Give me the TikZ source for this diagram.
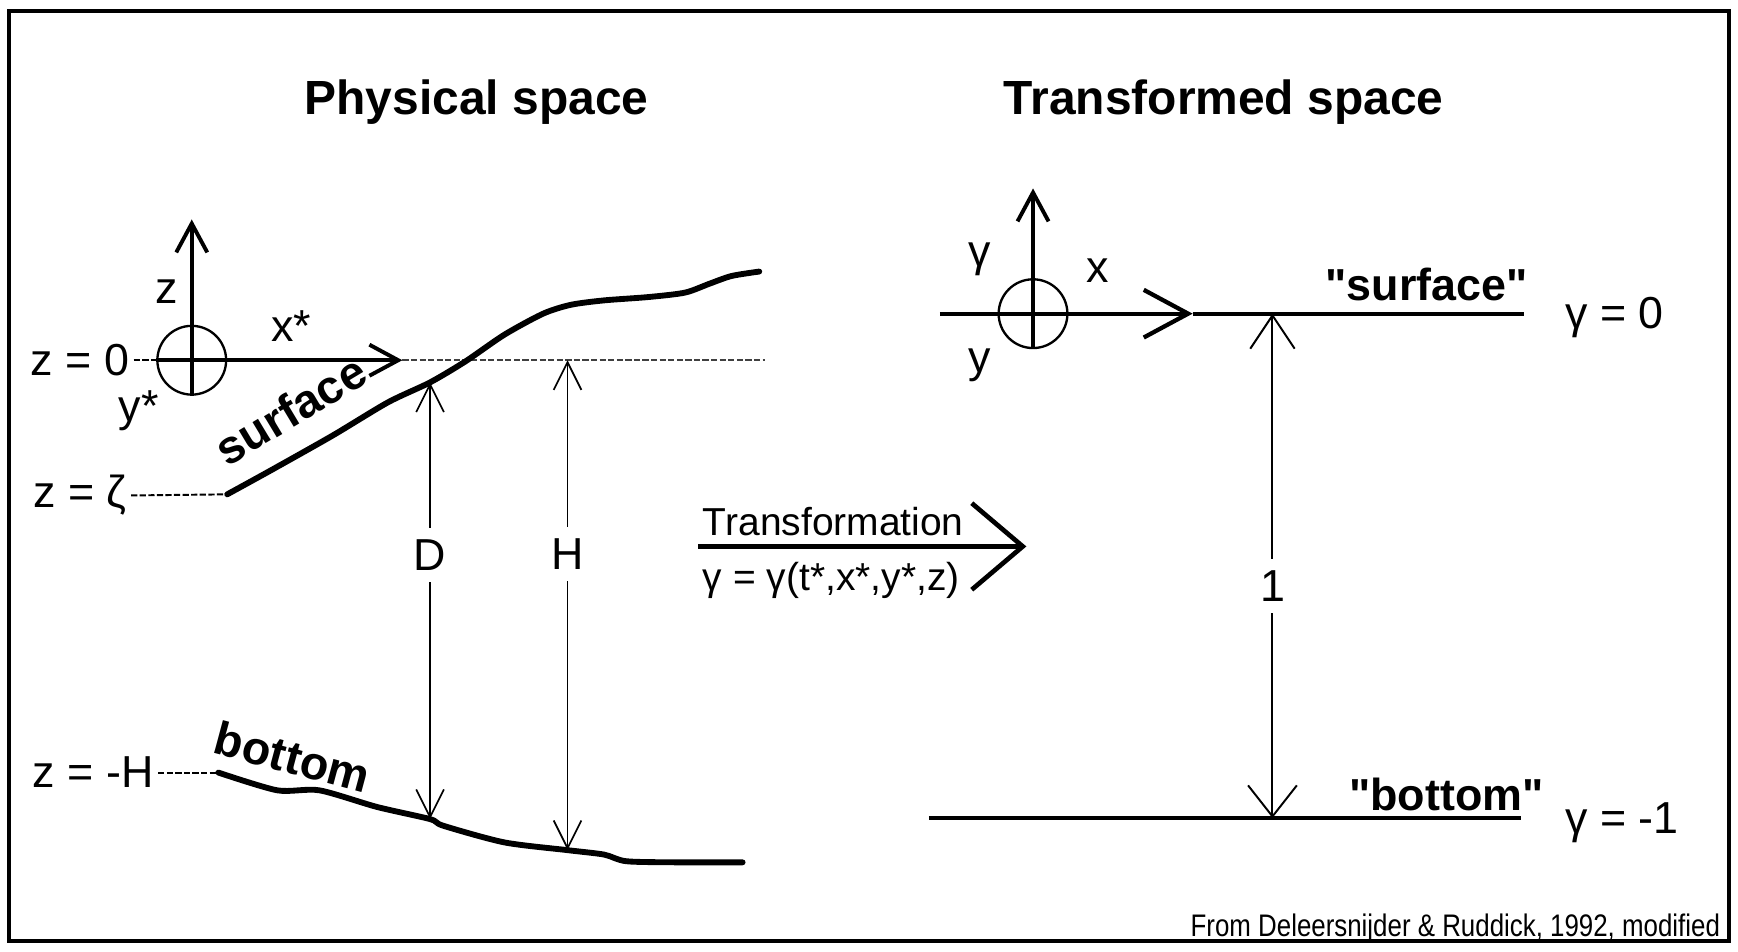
\documentclass[tikz,border=0pt]{standalone}
\usepackage{fontspec}
\setmainfont{Liberation Sans}
\usetikzlibrary{arrows.meta}

\tikzset{
  ttl/.style={font=\fontsize{12.3}{15}\selectfont\bfseries, inner sep=1pt},
  tag/.style={font=\fontsize{11.5}{14}\selectfont\bfseries, inner sep=1pt},
  lbl/.style={font=\fontsize{11.5}{14}\selectfont, inner sep=1pt},
  eqn/.style={font=\fontsize{10}{12}\selectfont, inner sep=1pt},
  coast/.style={line width=1.5pt, line join=round, line cap=round},
  axisline/.style={line width=1pt, -{Straight Barb[length=2.6mm,width=2.8mm,line width=1pt]}},
  dimline/.style={line width=0.45pt, {Straight Barb[length=2.5mm,width=2.5mm]}-{Straight Barb[length=2.5mm,width=2.5mm]}},
  dimlong/.style={line width=0.5pt, {Straight Barb[length=3mm,width=4mm]}-{Straight Barb[length=2.8mm,width=4.4mm]}},
  leader/.style={line width=0.5pt, dash pattern=on 1.6pt off 0.6pt},
  origin/.style={circle, draw, line width=0.6pt, minimum size=6.2mm, inner sep=0pt},
}

\begin{document}
\begin{tikzpicture}[x=0.01cm, y=-0.01cm]
  \useasboundingbox (0,0) rectangle (1568,858);

  % Frame
  \draw[line width=0.9pt] (8,10) rectangle (1560,849);

  % Titles
  \node[ttl] (physT) at (430,92) {Physical space};
  \node[ttl] (tranT) at (1104,92) {Transformed space};

  % Physical space: axes
  \node[origin] (origL) at (173,325) {};
  \coordinate (zTip) at (173,198);
  \coordinate (xTip) at (363,325);
  \coordinate (zEnd) at (690,325);
  \draw[axisline] (origL.south) -- (zTip);
  \draw[axisline] (origL.west) -- (xTip);
  \draw[leader, black!75] (xTip) -- (zEnd);
  \node[lbl] (zLbl) at (150,263) {z};
  \node[lbl] (xLbl) at (263,294) {x*};
  \node[lbl] (yLbl) at (125,371) {y*};

  % Physical space: levels
  \node[lbl] (lvTop) at (72,325) {z = 0};
  \node[lbl] (lvZeta) at (72,447) {z = ζ};
  \node[lbl] (lvBot) at (84,697) {z = -H};

  % Surface (D and H meet it here)
  \coordinate (sStart) at (205,446);
  \coordinate (sD) at (388,345);
  \coordinate (sH) at (512,325);
  \draw[coast] plot[smooth, tension=0.45] coordinates {
    (sStart) (245,424) (300,393) (350,363) (sD) (420,326) (455,302)
    (490,283) (515,275) (545,271) (585,268) (618,264) (640,256)
    (660,249) (685,245)};
  \node[tag, rotate=31, font=\fontsize{12}{14}\selectfont\bfseries] (sfLbl) at (262,370) {surface};

  % Bottom
  \coordinate (bStart) at (197,697);
  \coordinate (bD) at (388,739);
  \coordinate (bH) at (512,767);
  \draw[coast] plot[smooth, tension=0.45] coordinates {
    (bStart) (250,713) (288,713) (340,728) (bD) (400,745) (455,760)
    (bH) (545,771) (565,777) (610,778) (670,778)};
  \node[tag, rotate=-15, font=\fontsize{12}{14}\selectfont\bfseries] (btLbl) at (264,683) {bottom};

  % Level leaders
  \draw[leader] (lvTop.east) -- (origL.west);
  \draw[leader] (lvZeta.east) -- (sStart);
  \draw[leader] (lvBot.east) -- (bStart);

  % Depths
  \draw[dimline] (sD) -- (bD) node[lbl, pos=0.395, fill=white, inner sep=3pt] (dLbl) {D};
  \draw[dimline] (sH) -- (bH) node[lbl, pos=0.396, fill=white, inner sep=3pt] (hLbl) {H};

  % Transformation
  \coordinate (trA) at (630,493);
  \coordinate (trB) at (926,493);
  \draw[line width=1.2pt, -{Straight Barb[length=4.6mm,width=7.8mm,line width=1.2pt]}] (trA) -- (trB);
  \node[eqn, anchor=south west] (trTop) at (630,488) {Transformation};
  \node[eqn, anchor=north west] (trBot) at (630,503) {γ = γ(t*,x*,y*,z)};

  % Transformed space: axes
  \node[origin] (origR) at (932,283) {};
  \coordinate (gTip) at (932,170);
  \coordinate (sfL) at (848,283);
  \coordinate (sfMid) at (1076,283);
  \coordinate (sfR) at (1375,283);
  \coordinate (sf1) at (1148,283);
  \draw[axisline] (origR.south) -- (gTip);
  \draw[line width=1.1pt, -{Straight Barb[length=4mm,width=4.3mm,line width=1.1pt]}] (sfL) -- (sfMid);
  \draw[line width=1.1pt] (sfMid) -- (sfR);
  \node[lbl] (gLbl) at (884,234) {γ};
  \node[lbl] (xrLbl) at (990,244) {x};
  \node[lbl] (yrLbl) at (884,330) {y};
  \node[tag] (sfTag) at (1287,257) {\textquotedbl surface\textquotedbl};
  \node[lbl, anchor=west] (g0) at (1408,286) {γ = 0};

  % Transformed space: bottom
  \coordinate (btL) at (838,738);
  \coordinate (btR) at (1372,738);
  \coordinate (bt1) at (1148,738);
  \draw[line width=1.1pt] (btL) -- (btR);
  \node[tag] (btTag) at (1305,717) {\textquotedbl bottom\textquotedbl};
  \node[lbl, anchor=west] (g1) at (1408,742) {γ = -1};
  \draw[dimlong] (sf1) -- (bt1) node[lbl, pos=0.54, fill=white, inner sep=3pt] (oneLbl) {1};

  % Source
  \node[anchor=east, inner sep=1pt] (src) at (1556,838)
    {\scalebox{0.83}[1]{\fontsize{8}{10}\selectfont From Deleersnijder \& Ruddick, 1992, modified}};
\end{tikzpicture}
\end{document}
